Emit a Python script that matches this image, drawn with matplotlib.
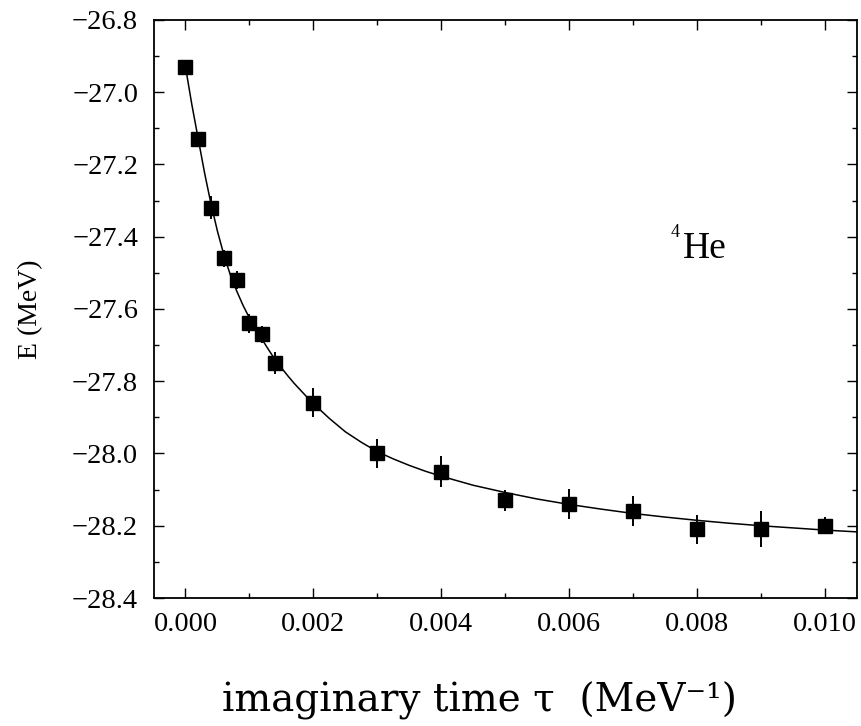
import matplotlib
matplotlib.use("Agg")
import matplotlib.pyplot as plt
from matplotlib.ticker import MultipleLocator, FuncFormatter

# data
tau = [0.0, 0.0002, 0.0004, 0.0006, 0.0008, 0.0010, 0.0012, 0.0014,
       0.002, 0.003, 0.004, 0.005, 0.006, 0.007, 0.008, 0.009, 0.010]
energy = [-26.93, -27.13, -27.32, -27.46, -27.52, -27.64, -27.67, -27.75,
          -27.86, -28.00, -28.05, -28.13, -28.14, -28.16, -28.21, -28.21, -28.20]
err = [0.01, 0.015, 0.032, 0.024, 0.024, 0.027, 0.024, 0.03,
       0.04, 0.041, 0.042, 0.03, 0.042, 0.042, 0.041, 0.05, 0.024]

# fitted curve
fit_tau = [0.0, 0.0001, 0.0002, 0.0003, 0.0004, 0.0005, 0.0006, 0.0007, 0.0008,
           0.0009, 0.0010, 0.0011, 0.0012, 0.0013, 0.0014, 0.0015, 0.0016,
           0.0017, 0.0018, 0.0019, 0.0020, 0.00225, 0.0025, 0.00275,
           0.0030, 0.00325, 0.0035, 0.00375, 0.0040, 0.0045, 0.0050, 0.0055,
           0.0060, 0.0065, 0.0070, 0.0075, 0.0080, 0.0085, 0.0090, 0.0095,
           0.0100, 0.0105]
fit_e = [-26.93, -27.035, -27.13, -27.225, -27.31, -27.385, -27.45, -27.505, -27.55,
         -27.59, -27.625, -27.656, -27.685, -27.713, -27.74, -27.763, -27.785,
         -27.806, -27.825, -27.844, -27.862, -27.903, -27.94, -27.969,
         -27.995, -28.015, -28.033, -28.049, -28.063, -28.088, -28.108, -28.126,
         -28.141, -28.154, -28.166, -28.176, -28.185, -28.193, -28.200, -28.206,
         -28.212, -28.217]

serif = ["Liberation Serif", "DejaVu Serif"]
plt.rcParams["font.family"] = serif

fig = plt.figure(figsize=(8.61, 7.26), dpi=100)
ax = fig.add_axes([0.1783, 0.1763, 0.8171, 0.7962])

ax.plot(fit_tau, fit_e, color="black", lw=1.1, zorder=2)
ax.errorbar(tau, energy, yerr=err, fmt="s", color="black", ms=9.8,
            elinewidth=1.4, capsize=0, zorder=3)

ax.set_xlim(-0.0005, 0.0105)
ax.set_ylim(-28.4, -26.8)
ax.xaxis.set_major_locator(MultipleLocator(0.002))
ax.xaxis.set_minor_locator(MultipleLocator(0.001))
ax.yaxis.set_major_locator(MultipleLocator(0.2))
ax.yaxis.set_minor_locator(MultipleLocator(0.1))
ax.xaxis.set_major_formatter(FuncFormatter(lambda v, p: f"{v:.3f}"))
ax.yaxis.set_major_formatter(FuncFormatter(lambda v, p: f"{v:.1f}".replace("-", "\u2212")))

ax.tick_params(which="both", direction="in", top=True, right=True, width=1.0)
ax.tick_params(which="major", length=7)
ax.tick_params(which="minor", length=3.8)
ax.tick_params(axis="x", which="major", labelsize=20.5, pad=10)
ax.tick_params(axis="y", which="major", labelsize=20.5, pad=11)
for s in ax.spines.values():
    s.set_linewidth(1.3)

ax.set_ylabel("E (MeV)", fontsize=20, labelpad=21)

ax.text(0.7527, 0.588, "He", transform=ax.transAxes, fontsize=27,
        ha="left", va="baseline")
ax.text(0.7356, 0.625, "4", transform=ax.transAxes, fontsize=13,
        ha="left", va="baseline")

fig.text(480 / 861, 1 - 712 / 726, "imaginary time \u03c4  (MeV\u207b\u00b9)",
         fontsize=28, family="DejaVu Serif", ha="center", va="baseline")

fig.savefig("out.png", dpi=100)
